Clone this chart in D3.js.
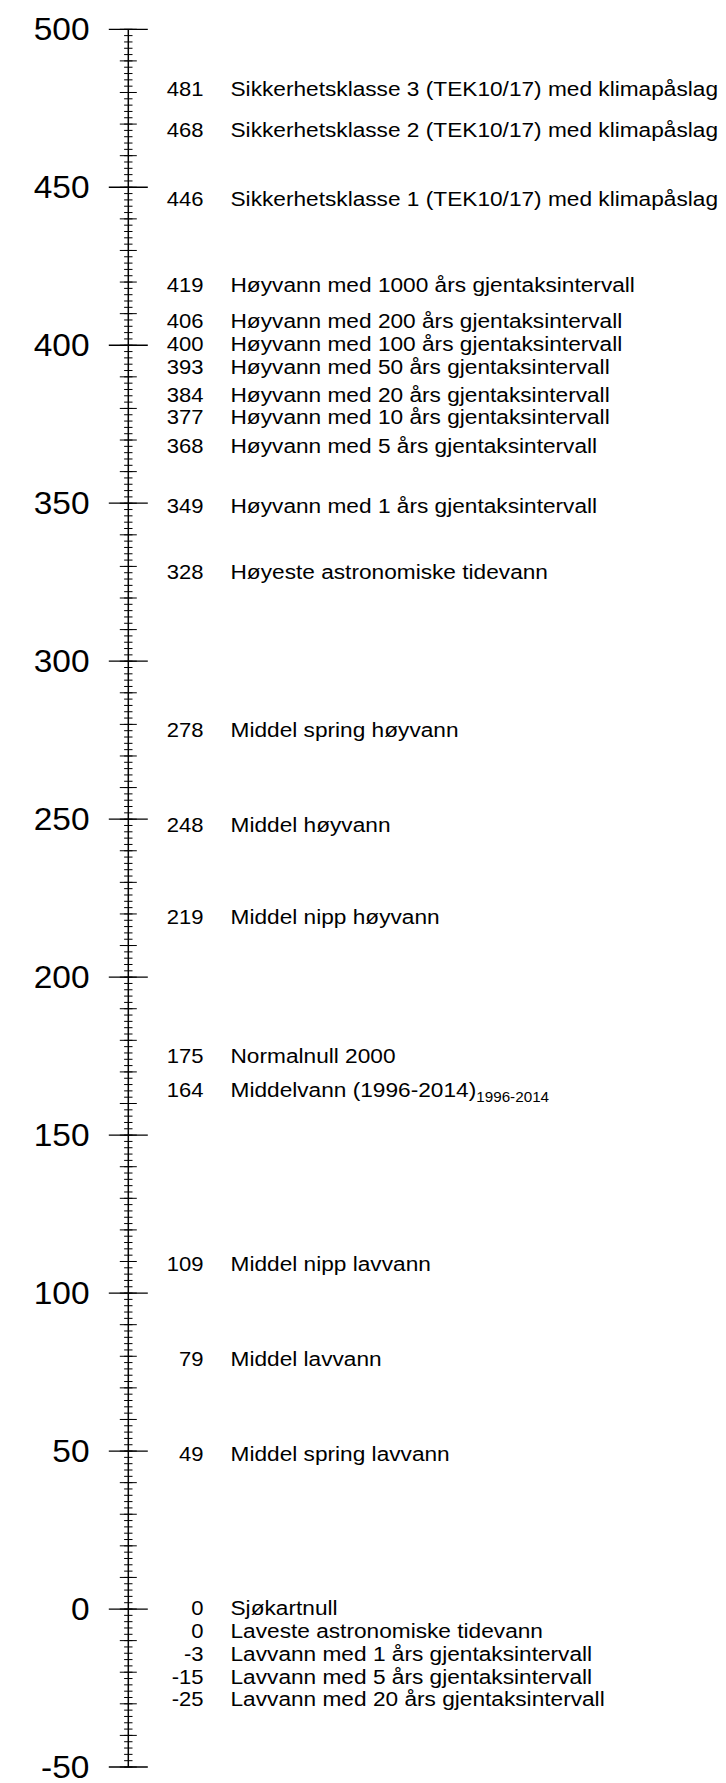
<!DOCTYPE html>
<html>
<head>
<meta charset="utf-8">
<script src="https://cdn.jsdelivr.net/npm/d3@7"></script>
<style>
  html, body { margin: 0; padding: 0; background: #fff; }
  svg { display: block; }
  text { font-family: "Liberation Sans", Arial, Helvetica, sans-serif; fill: #000; }
</style>
</head>
<body>
<svg id="chart" width="726" height="1783"></svg>
<script>
// ---- data ----
const levelValues = [481, 468, 446, 419, 406, 400, 393, 384, 377, 368, 349, 328, 278, 248, 219, 175, 164, 109, 79, 49, 0, 0, -3, -15, -25];
const levelNames = [
  "Sikkerhetsklasse 3 (TEK10/17) med klimapåslag",
  "Sikkerhetsklasse 2 (TEK10/17) med klimapåslag",
  "Sikkerhetsklasse 1 (TEK10/17) med klimapåslag",
  "Høyvann med 1000 års gjentaksintervall",
  "Høyvann med 200 års gjentaksintervall",
  "Høyvann med 100 års gjentaksintervall",
  "Høyvann med 50 års gjentaksintervall",
  "Høyvann med 20 års gjentaksintervall",
  "Høyvann med 10 års gjentaksintervall",
  "Høyvann med 5 års gjentaksintervall",
  "Høyvann med 1 års gjentaksintervall",
  "Høyeste astronomiske tidevann",
  "Middel spring høyvann",
  "Middel høyvann",
  "Middel nipp høyvann",
  "Normalnull 2000",
  "Middelvann (1996-2014)",
  "Middel nipp lavvann",
  "Middel lavvann",
  "Middel spring lavvann",
  "Sjøkartnull",
  "Laveste astronomiske tidevann",
  "Lavvann med 1 års gjentaksintervall",
  "Lavvann med 5 års gjentaksintervall",
  "Lavvann med 20 års gjentaksintervall"
];
const levelSubscripts = ["", "", "", "", "", "", "", "", "", "", "", "", "", "", "", "", "1996-2014", "", "", "", "", "", "", "", ""];
const majorTickValues = [-50, 0, 50, 100, 150, 200, 250, 300, 350, 400, 450, 500];
const majorTickLabels = ["-50", "0", "50", "100", "150", "200", "250", "300", "350", "400", "450", "500"];
const domain = [-50, 500];

// ---- layout ----
const svg = d3.select("#chart");
svg.append("rect").attr("width", 726).attr("height", 1783).attr("fill", "#fff");

const y = d3.scaleLinear().domain(domain).range([1767, 29.3]);
const axisX = 128.3;

const g = svg.append("g");

// minor ticks (every 2), medium (every 10), major (every 50)
const minorTicks = y.ticks(275);
const mediumTicks = y.ticks(55);

g.selectAll("line.minor").data(minorTicks).join("line")
  .attr("x1", axisX - 4.2).attr("x2", axisX + 4.2)
  .attr("y1", d => y(d)).attr("y2", d => y(d))
  .attr("stroke", "#000").attr("stroke-width", 1);

g.selectAll("line.medium").data(mediumTicks).join("line")
  .attr("x1", axisX - 8.5).attr("x2", axisX + 8.5)
  .attr("y1", d => y(d)).attr("y2", d => y(d))
  .attr("stroke", "#000").attr("stroke-width", 1);

g.selectAll("line.major").data(majorTickValues).join("line")
  .attr("x1", axisX - 19.5).attr("x2", axisX + 19.5)
  .attr("y1", d => y(d)).attr("y2", d => y(d))
  .attr("stroke", "#000").attr("stroke-width", 1.3);

// axis line
g.append("line")
  .attr("x1", axisX).attr("x2", axisX)
  .attr("y1", y(domain[1])).attr("y2", y(domain[0]))
  .attr("stroke", "#000").attr("stroke-width", 1.5);

// axis labels
const axisFont = 31, axisStretch = 1.08;
g.selectAll("text.axis").data(majorTickValues).join("text")
  .attr("class", "axis")
  .attr("transform", d => `translate(89.5,${y(d) + axisFont * 0.716 / 2}) scale(${axisStretch},1)`)
  .attr("text-anchor", "end")
  .attr("font-size", axisFont)
  .text((d, i) => majorTickLabels[i]);

// label positions with collision avoidance
const gap = 22.7;
const pivot = (domain[0] + domain[1]) / 2;
const items = levelValues.map((v, i) => ({ v, i, name: levelNames[i], sub: levelSubscripts[i], pos: y(v) }));
const upper = items.filter(d => d.v >= pivot).sort((a, b) => a.v - b.v || b.i - a.i);
for (let k = 1; k < upper.length; k++) {
  upper[k].pos = Math.min(upper[k].pos, upper[k - 1].pos - gap);
}
const lower = items.filter(d => d.v < pivot).sort((a, b) => b.v - a.v || a.i - b.i);
for (let k = 1; k < lower.length; k++) {
  lower[k].pos = Math.max(lower[k].pos, lower[k - 1].pos + gap);
}

const labFont = 20.8, labStretch = 1.09;
const base = d => d.pos - 1 + labFont * 0.716 / 2;

g.selectAll("text.val").data(items).join("text")
  .attr("class", "val")
  .attr("transform", d => `translate(203.5,${base(d)}) scale(1.06,1)`)
  .attr("text-anchor", "end")
  .attr("font-size", labFont)
  .text(d => String(d.v));

const nameText = g.selectAll("text.name").data(items).join("text")
  .attr("class", "name")
  .attr("transform", d => `translate(230.5,${base(d)}) scale(${labStretch},1)`)
  .attr("font-size", labFont);
nameText.append("tspan").text(d => d.name);
nameText.filter(d => d.sub).append("tspan")
  .attr("font-size", 14)
  .attr("dy", 5)
  .text(d => d.sub);
</script>
</body>
</html>
